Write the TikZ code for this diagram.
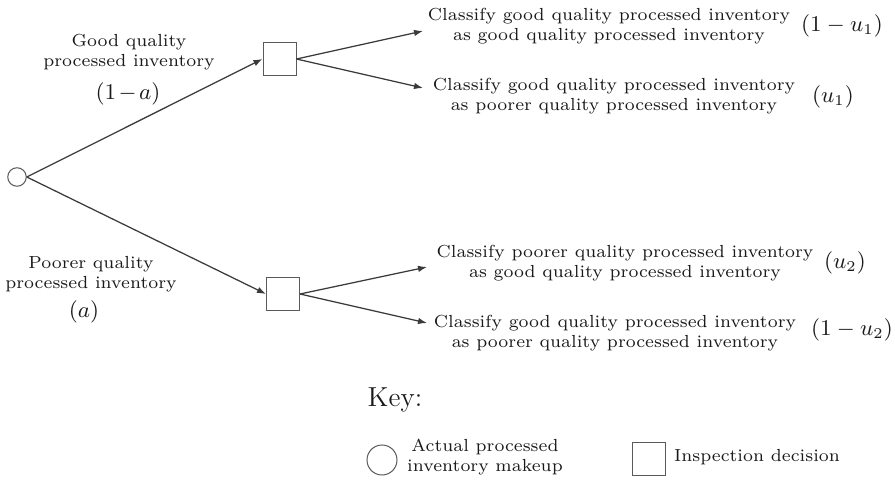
\documentclass[tikz,border=0pt]{standalone}
\usetikzlibrary{arrows.meta}
\definecolor{ln}{HTML}{3A3A3A}
\definecolor{bx}{HTML}{5A5A5A}
\definecolor{tx}{HTML}{1A1A1A}
\begin{document}
\begin{tikzpicture}[x=0.4pt,y=-0.4pt,
  arr/.style={draw=ln,line width=0.5pt,-{Latex[length=3.6pt,width=2.6pt]}},
  circ/.style={circle,draw=bx,line width=0.4pt,inner sep=0pt,minimum size=7.4pt},
  kcirc/.style={circle,draw=bx,line width=0.4pt,inner sep=0pt,minimum size=12pt},
  sq/.style={rectangle,draw=bx,line width=0.4pt,inner sep=0pt,minimum size=13.2pt},
  lbl/.style={align=center,font=\scriptsize,text=tx,inner sep=0pt},
  mth/.style={font=\small,text=tx,inner sep=0pt}]
\useasboundingbox (0,0) rectangle (895,480);
% nodes
\node[circ] (root) at (17,177) {};
\node[sq] (s1) at (279.5,59) {};
\node[sq] (s2) at (283,294) {};
\coordinate (t1) at (423,31);
\coordinate (t2) at (423,88);
\coordinate (t3) at (427,267);
\coordinate (t4) at (427,323);
% connectors
\draw[arr] (root.east) -- (s1.west);
\draw[arr] (root.east) -- (s2.west);
\draw[arr] (s1.east) -- (t1);
\draw[arr] (s1.east) -- (t2);
\draw[arr] (s2.east) -- (t3);
\draw[arr] (s2.east) -- (t4);
% left labels
\node[lbl] (g1) at (129,52) {Good quality\\processed inventory};
\node[mth] (g2) at (128,94) {$(1\mkern2mu{-}\mkern2mu a)$};
\node[lbl] (p1) at (91,274) {Poorer quality\\processed inventory};
\node[mth] (p2) at (84,312) {$(a)$};
% right labels
\node[lbl] (r1) at (609,26) {Classify good quality processed inventory\\as good quality processed inventory};
\node[mth] (m1) at (842,26) {$(1-u_1)$};
\node[lbl] (r2) at (614,96) {Classify good quality processed inventory\\as poorer quality processed inventory};
\node[mth] (m2) at (833,97) {$(u_1)$};
\node[lbl] (r3) at (625,263) {Classify poorer quality processed inventory\\as good quality processed inventory};
\node[mth] (m3) at (845,263) {$(u_2)$};
\node[lbl] (r4) at (615,333) {Classify good quality processed inventory\\as poorer quality processed inventory};
\node[mth] (m4) at (852,330) {$(1-u_2)$};
% key
\node[font=\fontsize{11}{13}\selectfont,text=tx,inner sep=0pt] (key) at (395,400) {Key:};
\node[kcirc] (kc) at (382,460) {};
\node[lbl] (kct) at (485,457) {Actual processed\\inventory makeup};
\node[sq] (ks) at (648.5,458.5) {};
\node[lbl] (kst) at (757,457) {Inspection decision};
\end{tikzpicture}
\end{document}
